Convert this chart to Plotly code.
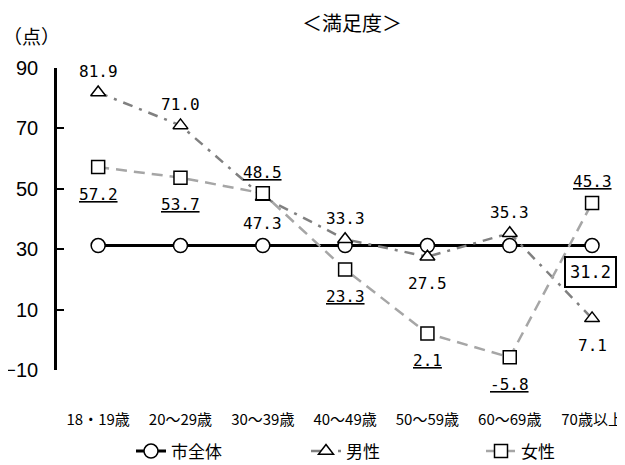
import plotly.graph_objects as go

categories = ["18・19歳", "20～29歳", "30～39歳", "40～49歳", "50～59歳", "60～69歳", "70歳以上"]
city_all = [31.2, 31.2, 31.2, 31.2, 31.2, 31.2, 31.2]
male = [81.9, 71.0, 47.3, 33.3, 27.5, 35.3, 7.1]
female = [57.2, 53.7, 48.5, 23.3, 2.1, -5.8, 45.3]
male_label_up = [True, True, False, True, False, True, False]
female_label_up = [False, False, True, False, False, False, True]
y_ticks = [-10, 10, 30, 50, 70, 90]

MONO = "DejaVu Sans Mono"
JP = "Noto Sans CJK JP"

fig = go.Figure()
fig.add_trace(go.Scatter(
    x=categories, y=city_all, name="市全体", mode="lines+markers",
    line=dict(color="black", width=3),
    marker=dict(symbol="circle", size=14, color="white", line=dict(color="black", width=1.5)),
))
fig.add_trace(go.Scatter(
    x=categories, y=male, name="男性", mode="lines+markers",
    line=dict(color="#808080", width=2.5, dash="10px,7px,3px,7px"),
    marker=dict(symbol="triangle-up", size=13, color="white", line=dict(color="black", width=1.5)),
))
fig.add_trace(go.Scatter(
    x=categories, y=female, name="女性", mode="lines+markers",
    line=dict(color="#a6a6a6", width=2.5, dash="11px,7px"),
    marker=dict(symbol="square", size=13, color="white", line=dict(color="black", width=1.5)),
))

annotations = []
for c, v, up in zip(categories, male, male_label_up):
    annotations.append(dict(x=c, y=v, xref="x", yref="y", text=f"{v:.1f}", showarrow=False,
                            yshift=21 if up else -27, font=dict(family=MONO, size=16, color="black")))
for c, v, up in zip(categories, female, female_label_up):
    annotations.append(dict(x=c, y=v, xref="x", yref="y", text=f"<u>{v:.1f}</u>", showarrow=False,
                            yshift=21 if up else -27, font=dict(family=MONO, size=16, color="black")))
annotations.append(dict(x=categories[-1], y=city_all[-1], xref="x", yref="y", text=f"{city_all[-1]:.1f}",
                        showarrow=False, yshift=-26, xshift=-2, bordercolor="black", borderwidth=2, borderpad=4,
                        bgcolor="white", font=dict(family=MONO, size=17, color="black")))

# page body adds an 8px offset; figure coords = reference pixel coords - 8
OFF = 8
W, H = 625 - OFF, 465 - OFF
ml, mr, mt, mb = 57 - OFF, 0, 68 - OFF, 95

paper_texts = [("＜満足度＞", 352, 22, 20), ("（点）", 31, 35, 19)]
for txt, px, py, fs in paper_texts:
    annotations.append(dict(
        x=(px - OFF - ml) / (W - ml - mr), y=(H - mb - (py - OFF)) / (H - mt - mb),
        xref="paper", yref="paper", xanchor="center", yanchor="middle", text=txt, showarrow=False,
        font=dict(family=JP, size=fs, color="black")))

fig.update_layout(
    width=W, height=H,
    margin=dict(l=ml, r=mr, t=mt, b=mb, autoexpand=False),
    paper_bgcolor="white", plot_bgcolor="white",
    showlegend=True,
    legend=dict(orientation="h", x=(131 - OFF - ml) / (W - ml - mr), xanchor="left", y=-0.27, yanchor="middle",
                font=dict(family=JP, size=17, color="black"), entrywidth=130, entrywidthmode="pixels"),
    annotations=annotations,
    xaxis=dict(range=[-0.5, 6.4], showline=False, showgrid=False, zeroline=False, ticks="",
               tickfont=dict(family=JP, size=15, color="black"), ticklabelstandoff=39, automargin=False),
    yaxis=dict(range=[-10, 90], tickvals=y_ticks, ticktext=[str(t).replace("-", "−") for t in y_ticks],
               showline=True, linecolor="black", linewidth=2.5, ticks="inside", ticklen=7,
               tickwidth=2, tickcolor="black", showgrid=False, zeroline=False,
               tickfont=dict(family="Liberation Sans", size=20, color="black"),
               ticklabelstandoff=12, automargin=False),
)

fig.write_html("out.html")
